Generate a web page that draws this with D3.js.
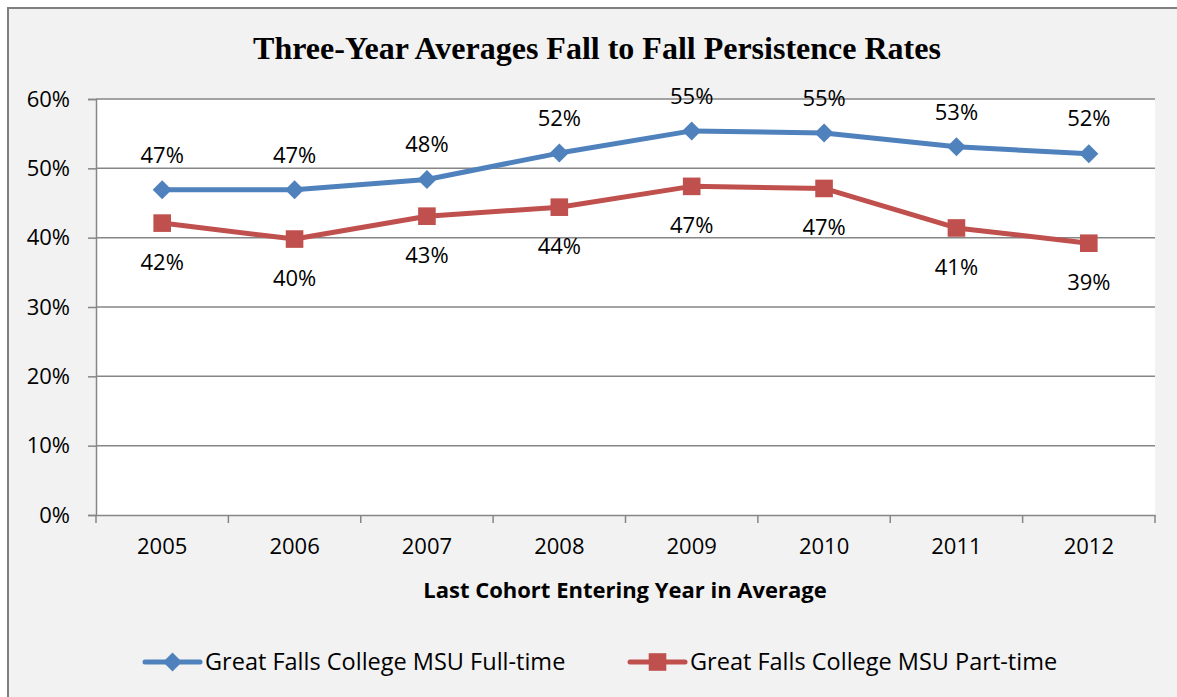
<!DOCTYPE html>
<html>
<head>
<meta charset="utf-8">
<script src="https://cdnjs.cloudflare.com/ajax/libs/d3/7.8.5/d3.min.js"></script>
<style>
  body { margin: 0; background: #fff; }
  text { font-family: "Open Sans", Lato, sans-serif; fill: #000; }
</style>
</head>
<body>
<div id="chart"></div>
<script>
// chart values
var years = ["2005", "2006", "2007", "2008", "2009", "2010", "2011", "2012"];
var fullTime = [46.9, 46.9, 48.4, 52.2, 55.4, 55.1, 53.1, 52.1];
var partTime = [42.1, 39.8, 43.1, 44.4, 47.4, 47.1, 41.4, 39.2];
var yTicks = [0, 10, 20, 30, 40, 50, 60];
var seriesNames = ["Great Falls College MSU Full-time", "Great Falls College MSU Part-time"];

var W = 1177, H = 697;
var margin = {top: 99, right: 22, bottom: 182, left: 96};
var fs = "22px";

var svg = d3.select("#chart").append("svg")
    .attr("width", W)
    .attr("height", H);

// outer chart area with border
svg.append("rect")
    .attr("x", 8).attr("y", 8)
    .attr("width", W + 10).attr("height", H + 10)
    .attr("fill", "#f2f2f2")
    .attr("stroke", "#7f7f7f")
    .attr("stroke-width", 2);

var width = W - margin.left - margin.right,
    height = H - margin.top - margin.bottom;

var g = svg.append("g")
    .attr("transform", "translate(" + margin.left + "," + margin.top + ")");

var x = d3.scaleBand().domain(years).range([0, width]);
var y = d3.scaleLinear().domain([0, 60]).range([height, 0]);

g.append("rect")
    .attr("width", width).attr("height", height)
    .attr("fill", "#fff");

// horizontal gridlines
g.selectAll(".grid")
    .data(yTicks.filter(function(d) { return d > 0; }))
    .enter().append("line")
    .attr("class", "grid")
    .attr("x1", 0).attr("x2", width)
    .attr("y1", function(d) { return y(d); })
    .attr("y2", function(d) { return y(d); })
    .attr("stroke", "#868686")
    .attr("stroke-width", 1.5);

// y axis
var yAxis = g.append("g")
    .call(d3.axisLeft(y).tickValues(yTicks).tickSize(8).tickPadding(18)
      .tickFormat(function(d) { return d + "%"; }));
yAxis.selectAll("line, path").attr("stroke", "#868686").attr("stroke-width", 1.5);
yAxis.selectAll("text").style("font-size", fs).attr("fill", "#000").style("font-family", "Open Sans");

// x axis, ticks on category boundaries
var xAxis = g.append("g")
    .attr("transform", "translate(0," + height + ")")
    .call(d3.axisBottom(x).tickSize(0).tickPadding(23));
xAxis.select("path").attr("stroke", "#868686").attr("stroke-width", 1.5);
xAxis.selectAll("text").style("font-size", fs).attr("fill", "#000").style("font-family", "Open Sans");
var bounds = years.map(function(d) { return x(d); }).concat([width]);
xAxis.selectAll(".bound")
    .data(bounds)
    .enter().append("line")
    .attr("x1", function(d) { return d; }).attr("x2", function(d) { return d; })
    .attr("y1", 0).attr("y2", 8)
    .attr("stroke", "#868686").attr("stroke-width", 1.5);

function cx(d, i) { return x(years[i]) + x.bandwidth() / 2; }

var line = d3.line()
    .x(function(d, i) { return cx(d, i); })
    .y(function(d) { return y(d); });

var blue = "#4f81bd", red = "#c0504d";

g.append("path").datum(fullTime)
    .attr("d", line).attr("fill", "none")
    .attr("stroke", blue).attr("stroke-width", 5).attr("stroke-linejoin", "round");
g.append("path").datum(partTime)
    .attr("d", line).attr("fill", "none")
    .attr("stroke", red).attr("stroke-width", 5).attr("stroke-linejoin", "round");

var diamond = d3.symbol().type(d3.symbolDiamond2).size(230);
var square = d3.symbol().type(d3.symbolSquare).size(310);

g.selectAll(".ft")
    .data(fullTime).enter().append("path")
    .attr("d", diamond)
    .attr("transform", function(d, i) { return "translate(" + cx(d, i) + "," + y(d) + ")"; })
    .attr("fill", blue);
g.selectAll(".pt")
    .data(partTime).enter().append("path")
    .attr("d", square)
    .attr("transform", function(d, i) { return "translate(" + cx(d, i) + "," + y(d) + ")"; })
    .attr("fill", red);

// data labels
g.selectAll(".ftl")
    .data(fullTime).enter().append("text")
    .attr("x", function(d, i) { return cx(d, i); })
    .attr("y", function(d) { return y(d) - 35; })
    .attr("text-anchor", "middle").attr("dy", "0.35em")
    .style("font-size", fs)
    .text(function(d) { return Math.round(d) + "%"; });
g.selectAll(".ptl")
    .data(partTime).enter().append("text")
    .attr("x", function(d, i) { return cx(d, i); })
    .attr("y", function(d) { return y(d) + 39; })
    .attr("text-anchor", "middle").attr("dy", "0.35em")
    .style("font-size", fs)
    .text(function(d) { return Math.round(d) + "%"; });

// title
svg.append("text")
    .attr("x", 597).attr("y", 48).attr("dy", "0.35em")
    .attr("text-anchor", "middle")
    .style("font-family", "'Liberation Serif', 'Times New Roman', serif")
    .style("font-weight", "bold").style("font-size", "32px")
    .text("Three-Year Averages Fall to Fall Persistence Rates");

// x axis title
svg.append("text")
    .attr("x", 625).attr("y", 590).attr("dy", "0.35em")
    .attr("text-anchor", "middle")
    .style("font-weight", "bold").style("font-size", "22px")
    .text("Last Cohort Entering Year in Average");

// legend
var legend = svg.append("g").attr("transform", "translate(0,662)");
var items = [
  {name: seriesNames[0], color: blue, sym: diamond, x0: 145},
  {name: seriesNames[1], color: red, sym: square, x0: 630}
];
items.forEach(function(it) {
  legend.append("line")
    .attr("x1", it.x0).attr("x2", it.x0 + 55)
    .attr("stroke", it.color).attr("stroke-width", 5).attr("stroke-linecap", "round");
  legend.append("path").attr("d", it.sym)
    .attr("transform", "translate(" + (it.x0 + 27.5) + ",0)")
    .attr("fill", it.color);
  legend.append("text")
    .attr("x", it.x0 + 60).attr("dy", "0.35em")
    .style("font-size", "23.5px")
    .text(it.name);
});
</script>
</body>
</html>
